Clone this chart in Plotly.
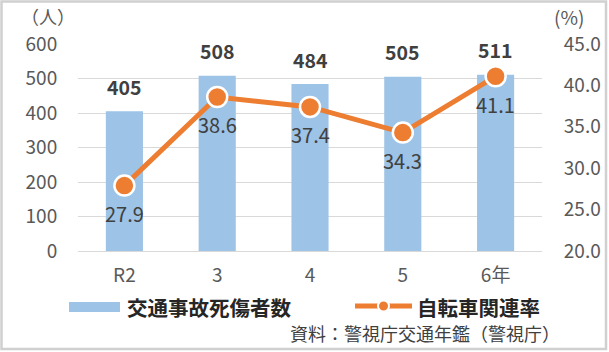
import plotly.graph_objects as go

# ---- data ----
categories = ["R2", "3", "4", "5", "6年"]
casualties = [405, 508, 484, 505, 511]
bicycle_rate = [27.9, 38.6, 37.4, 34.3, 41.1]
left_ticks = [0, 100, 200, 300, 400, 500, 600]
right_ticks = [20, 25, 30, 35, 40, 45]
bar_name = "交通事故死傷者数"
line_name = "自転車関連率"
source_text = "資料：警視庁交通年鑑（警視庁）"

W, H = 609, 352
L, R, T, B = 78, 67, 44, 101
PW, PH = W - L - R, H - T - B

def px(x):
    return (x - L) / PW

def py(y):
    return (H - B - y) / PH

FONT = "Noto Sans CJK JP"
BAR_C = "#9dc3e6"
LINE_C = "#ed7d31"
TXT = "#404040"
TICK = "#595959"
GRID = "#d9d9d9"

fig = go.Figure()
fig.add_trace(go.Bar(x=categories, y=casualties, name=bar_name,
                     marker=dict(color=BAR_C, line=dict(width=0)),
                     yaxis="y", showlegend=False))
fig.add_trace(go.Scatter(x=categories, y=bicycle_rate, name=line_name,
                         mode="lines+markers", yaxis="y2",
                         line=dict(color=LINE_C, width=5),
                         marker=dict(size=20, color=LINE_C, line=dict(color="white", width=2.5)),
                         showlegend=False))

ann = []
for i, v in enumerate(casualties):
    ann.append(dict(x=i, y=v, xref="x", yref="y", text=f"<b>{v}</b>", showarrow=False,
                    yshift=25, font=dict(size=19.5, color=TXT, family=FONT)))
for i, v in enumerate(bicycle_rate):
    ann.append(dict(x=i, y=v, xref="x", yref="y2", text=f"{v:.1f}", showarrow=False,
                    yshift=-28, font=dict(size=20, color=TXT, family=FONT)))

ann += [
    dict(x=px(20), y=py(16), xref="paper", yref="paper", text="（人）", showarrow=False,
         xanchor="left", yanchor="middle", borderpad=0, font=dict(size=18, color=TICK, family=FONT)),
    dict(x=px(553), y=py(16), xref="paper", yref="paper", text="(%)", showarrow=False,
         xanchor="left", yanchor="middle", borderpad=0, font=dict(size=19, color=TICK, family=FONT)),
    dict(x=px(125), y=py(307), xref="paper", yref="paper", text=f"<b>{bar_name}</b>", showarrow=False,
         xanchor="left", yanchor="middle", font=dict(size=20.5, color="#262626", family=FONT)),
    dict(x=px(415), y=py(307), xref="paper", yref="paper", text=f"<b>{line_name}</b>", showarrow=False,
         xanchor="left", yanchor="middle", font=dict(size=20.5, color="#262626", family=FONT)),
    dict(x=px(288), y=py(333), xref="paper", yref="paper", text=source_text, showarrow=False,
         xanchor="left", yanchor="middle", font=dict(size=18, color=TXT, family=FONT)),
]

shapes = [
    dict(type="rect", xref="paper", yref="paper", x0=px(1.5), x1=px(606), y0=py(1.5), y1=py(349),
         line=dict(color="#d0d0d0", width=2.5), fillcolor="rgba(0,0,0,0)", layer="below"),
    dict(type="rect", xref="paper", yref="paper", x0=px(69), x1=px(120), y0=py(302), y1=py(312),
         line=dict(width=0), fillcolor=BAR_C),
    dict(type="line", xref="paper", yref="paper", x0=px(355), x1=px(412), y0=py(306), y1=py(306),
         line=dict(color=LINE_C, width=5)),
    dict(type="circle", xref="paper", yref="paper", x0=px(378), x1=px(389), y0=py(300.5), y1=py(311.5),
         line=dict(color="white", width=2), fillcolor=LINE_C),
]

fig.update_layout(
    width=W, height=H,
    margin=dict(l=L, r=R, t=T, b=B, pad=0, autoexpand=False),
    paper_bgcolor="white", plot_bgcolor="white",
    bargap=0.6,
    showlegend=False,
    font=dict(family=FONT, color=TICK),
    xaxis=dict(type="category", automargin=False, showgrid=False, showline=True, linecolor=GRID,
               linewidth=1.3, ticks="outside", ticklen=7, tickcolor="rgba(0,0,0,0)",
               tickfont=dict(size=19, color=TICK, family=FONT)),
    yaxis=dict(range=[0, 600], tickvals=left_ticks, automargin=False, showgrid=True, gridcolor=GRID,
               gridwidth=1.3, zeroline=False, showline=False, ticks="outside", ticklen=16,
               tickcolor="rgba(0,0,0,0)", tickfont=dict(size=19, color=TICK, family=FONT)),
    yaxis2=dict(range=[20, 45], tickvals=right_ticks, tickformat=".1f", overlaying="y", side="right",
                automargin=False, showgrid=False, zeroline=False, showline=False, ticks="outside",
                ticklen=17, tickcolor="rgba(0,0,0,0)", tickfont=dict(size=19, color=TICK, family=FONT)),
    annotations=ann, shapes=shapes,
)

fig.write_html("out.html")
